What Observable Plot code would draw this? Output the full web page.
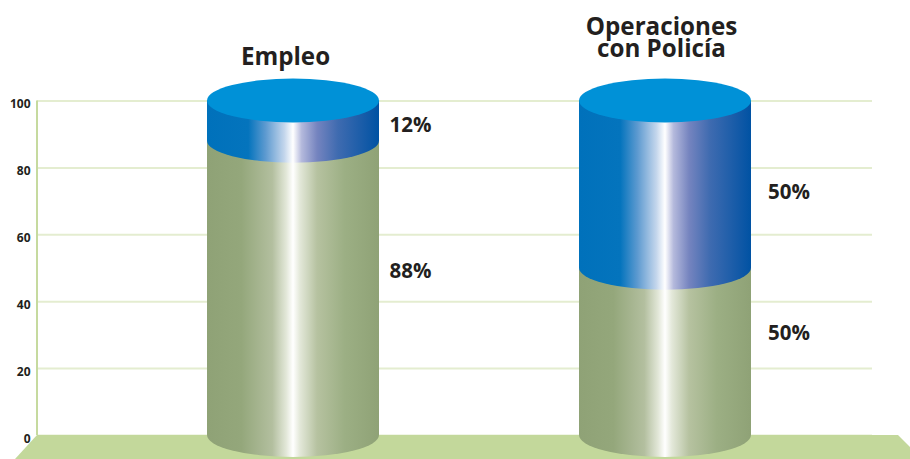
<!DOCTYPE html>
<html lang="es">
<head>
<meta charset="utf-8">
<script src="https://cdn.jsdelivr.net/npm/d3@7"></script>
<script src="https://cdn.jsdelivr.net/npm/@observablehq/plot@0.6"></script>
<style>
  html, body { margin: 0; padding: 0; background: #fff; }
  svg { display: block; }
</style>
</head>
<body>
<div id="chart"></div>
<script>
// Survey shares per category
const categories = ["Empleo", "Operaciones con Policía"];
const greenShare = [88, 50];
const blueShare = [12, 50];
const yTicks = [0, 20, 40, 60, 80, 100];

// Stacked rows: the green segment sits under the blue one
const rows = [
  ...categories.map((c, i) => ({category: c, segment: "green", value: greenShare[i]})),
  ...categories.map((c, i) => ({category: c, segment: "blue", value: blueShare[i]}))
];

const FONT = "'Open Sans', sans-serif";
const INK = "#231f20";
const ELLIPSE_RY = 22;

// Horizontal metal-like shading for the cylinder walls
const shading = {
  green: [[0, "#8fa276"], [0.2, "#94a77b"], [0.38, "#b3bf9f"], [0.46, "#e2e7d8"], [0.5, "#ffffff"],
          [0.54, "#e3e8d9"], [0.64, "#b6c2a0"], [0.8, "#9caf84"], [1, "#8fa276"]],
  blue: [[0, "#0071bb"], [0.24, "#0474bd"], [0.34, "#5d9ad0"], [0.45, "#c4d6ec"], [0.5, "#ffffff"],
         [0.55, "#b4b9dc"], [0.64, "#7584bf"], [0.76, "#3f6bb0"], [1, "#0052a3"]]
};

// Draws each stacked bar as a cylinder section, with the lid on the top segment
function cylinders(index, scales, values) {
  const g = d3.create("svg:g");
  const defs = g.append("defs");
  for (const [name, stops] of Object.entries(shading)) {
    const grad = defs.append("linearGradient").attr("id", `wall-${name}`);
    for (const [offset, color] of stops) {
      grad.append("stop").attr("offset", offset).attr("stop-color", color);
    }
  }
  const rx = scales.x.bandwidth() / 2;
  const ry = ELLIPSE_RY;
  for (const i of index) {
    const x0 = values.x[i];
    const x1 = x0 + 2 * rx;
    const top = Math.min(values.y1[i], values.y2[i]);
    const bottom = Math.max(values.y1[i], values.y2[i]);
    g.append("path")
      .attr("fill", `url(#wall-${rows[i].segment})`)
      .attr("d", `M${x0},${top}L${x0},${bottom}A${rx},${ry} 0 0 0 ${x1},${bottom}L${x1},${top}Z`);
    if (rows[i].segment === "blue") {
      g.append("ellipse")
        .attr("cx", x0 + rx).attr("cy", top)
        .attr("rx", rx).attr("ry", ry)
        .attr("fill", "#0091d7");
    }
  }
  return g.node();
}

// Green floor plane and the left wall line of the chart box
function floorAndWall(index, {y}, values, {width, height, marginLeft}) {
  const g = d3.create("svg:g");
  const base = y(0);
  g.append("path")
    .attr("fill", "#c3d89b")
    .attr("d", `M${marginLeft},${base}L${width - 12},${base}L${width + 12},${height}L${marginLeft - 22},${height}Z`);
  g.append("line")
    .attr("x1", marginLeft).attr("x2", marginLeft)
    .attr("y1", y(100)).attr("y2", base)
    .attr("stroke", "#c6da9f").attr("stroke-width", 2);
  return g.node();
}

// Percentage labels beside the cylinders
const labelMark = (category, value, mid, dx, dy) =>
  Plot.text([`${value}%`], {
    x: () => category, y: () => mid, text: d => d,
    textAnchor: "start", dx, dy,
    fontFamily: FONT, fontWeight: 700, fontSize: 20.5, fill: INK
  });

// Category headings above the chart
const titleMark = (category, text, dx, dy) =>
  Plot.text([text], {
    x: () => category, text: d => d, frameAnchor: "top", dx, dy,
    lineHeight: 0.91, lineAnchor: "middle",
    fontFamily: FONT, fontWeight: 700, fontSize: 24.2, fill: INK
  });

const chart = Plot.plot({
  width: 910,
  height: 459,
  marginLeft: 37,
  marginRight: 38,
  marginTop: 0,
  marginBottom: 0,
  style: {background: "#fff", overflow: "hidden"},
  x: {type: "band", domain: categories, range: [207, 751], paddingInner: 200 / 372, paddingOuter: 0, axis: null},
  y: {domain: [0, 100], range: [435, 100.5], axis: null},
  marks: [
    Plot.ruleY(yTicks, {stroke: "#e4edd0", strokeWidth: 2}),
    floorAndWall,
    Plot.axisY(yTicks, {
      anchor: "left", label: null, tickSize: 0, tickPadding: 7, dy: 3.5,
      fontFamily: FONT, fontWeight: 700, fontSize: 12, fill: INK
    }),
    Plot.barY(rows, {
      x: "category",
      y: "value",
      z: "segment",
      order: null,
      render: cylinders
    }),
    titleMark(categories[0], "Empleo", -8, 57),
    titleMark(categories[1], "Operaciones\ncon Policía", -4, 38.5),
    labelMark(categories[0], blueShare[0], 100 - blueShare[0] / 2, 96, 4),
    labelMark(categories[0], greenShare[0], greenShare[0] / 2, 96, -17),
    labelMark(categories[1], blueShare[1], 100 - blueShare[1] / 2, 102.5, 8),
    labelMark(categories[1], greenShare[1], greenShare[1] / 2, 102.5, -18)
  ]
});

document.getElementById("chart").append(chart);
</script>
</body>
</html>
